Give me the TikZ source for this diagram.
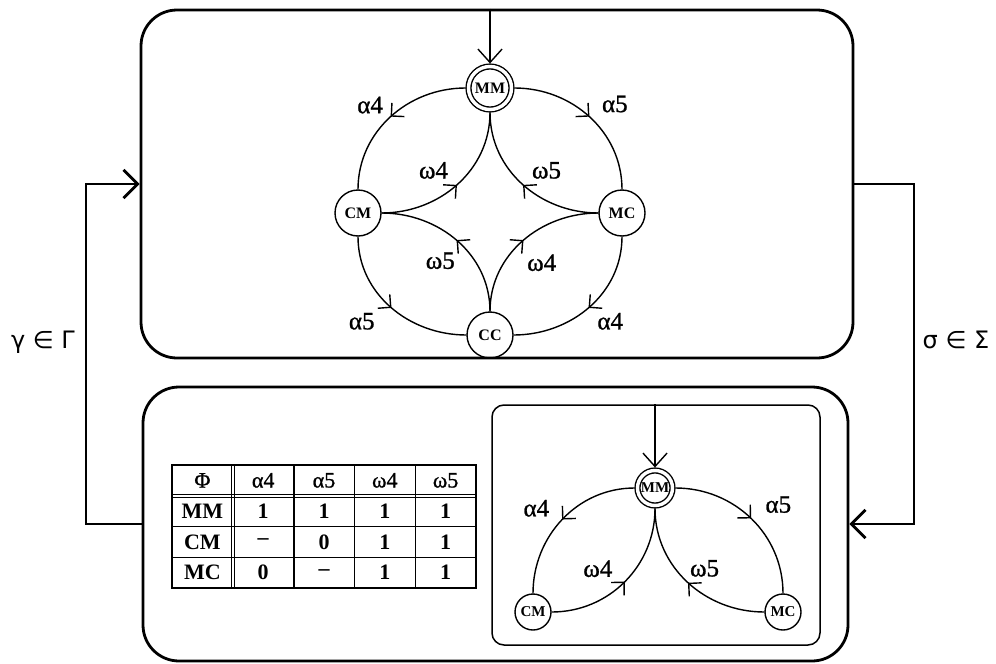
\documentclass[tikz,border=0pt]{standalone}
\usepackage{fontspec}
\setmainfont{Liberation Serif}
\newfontfamily\lblfont[FakeBold=1]{Liberation Serif}
\newfontfamily\sansgreek{DejaVu Sans}
\usetikzlibrary{arrows.meta,decorations.markings,matrix}
\begin{document}
\begin{tikzpicture}[x=1pt,y=-1pt,
  frame/.style={draw,line width=2.8pt,rounded corners=36pt,inner sep=0pt},
  panel/.style={draw,line width=1.5pt,rounded corners=12pt,inner sep=0pt},
  state/.style={circle,draw,line width=1.4pt,inner sep=0pt,minimum size=46pt,
    font=\fontsize{16}{16}\selectfont\bfseries},
  start/.style={state,double,double distance=3.4pt,minimum size=43pt,outer sep=3pt},
  statesm/.style={state,minimum size=36pt,font=\fontsize{15}{15}\selectfont\bfseries},
  startsm/.style={start,minimum size=35pt,font=\fontsize{15}{15}\selectfont\bfseries},
  trans/.style={line width=1.4pt,postaction={decorate,decoration={markings,
    mark=at position 0.5 with {\arrow{Straight Barb[angle=90:13pt]}}}}},
  lbl/.style={font=\lblfont\fontsize{25}{25}\selectfont,inner sep=0pt},
  entry/.style={line width=1.4pt,-{Straight Barb[angle=84:18pt]}},
  feed/.style={line width=2.8pt,-{Straight Barb[angle=90:20pt]}},
  setlbl/.style={font=\sansgreek\fontsize{24}{24}\selectfont,inner sep=0pt},
  cell/.style={minimum width=60.8pt,minimum height=30.75pt,inner sep=0pt,anchor=center,
    font=\fontsize{22}{22}\selectfont},
  head/.style={font=\lblfont\fontsize{22}{22}\selectfont},
  rule/.style={line width=1.5pt},
]
\useasboundingbox (0,0) rectangle (996,664);

% the two outer frames and the inner panel
\node[frame,minimum width=712pt,minimum height=348pt] (top) at (497,184) {};
\node[frame,minimum width=705pt,minimum height=274pt] (bot) at (495.5,524) {};
\node[panel,minimum width=328pt,minimum height=240pt] (pan) at (656,525) {};

% feedback loops between the frames
\coordinate (lfb) at (86,184);
\coordinate (rfb) at (914,524);
\draw[feed] (bot.west) -| (lfb) -- (top.west);
\draw[feed] (top.east) -| (rfb) -- (bot.east);
\node[setlbl] (gam) at (43,342) {γ ∈ Γ};
\node[setlbl] (sig) at (956,340) {σ ∈ Σ};

% upper automaton
\node[start] (MM) at (490,88) {MM};
\node[state] (CM) at (358,213) {CM};
\node[state] (MC) at (622,213) {MC};
\node[state] (CC) at (490,335) {CC};
\draw[entry] (top.north -| MM) -- (MM.north);

\draw[trans] (MM.west) to[out=180,in=90] node[lbl,midway,xshift=-20pt,yshift=12pt]{α4} (CM.north);
\draw[trans] (MM.east) to[out=0,in=90] node[lbl,midway,xshift=25pt,yshift=13pt]{α5} (MC.north);
\draw[trans] (CM.east) to[out=0,in=-90] node[lbl,midway,xshift=-24pt,yshift=14pt]{ω4} (MM.south);
\draw[trans] (MC.west) to[out=180,in=-90] node[lbl,midway,xshift=24pt,yshift=14pt]{ω5} (MM.south);
\draw[trans] (CC.north) to[out=90,in=0] node[lbl,midway,xshift=-17pt,yshift=-20pt]{ω5} (CM.east);
\draw[trans] (CC.north) to[out=90,in=180] node[lbl,midway,xshift=19pt,yshift=-22pt]{ω4} (MC.west);
\draw[trans] (CM.south) to[out=-90,in=180] node[lbl,midway,xshift=-29pt,yshift=-14pt]{α5} (CC.west);
\draw[trans] (MC.south) to[out=-90,in=0] node[lbl,midway,xshift=21pt,yshift=-14pt]{α4} (CC.east);

% lower automaton inside the panel
\node[startsm] (MMb) at (655,488) {MM};
\node[statesm] (CMb) at (533,612) {CM};
\node[statesm] (MCb) at (783,612) {MC};
\draw[entry] (pan.north -| MMb) -- (MMb.north);

\draw[trans] (MMb.west) to[out=180,in=90] node[lbl,midway,xshift=-26pt,yshift=11pt]{α4} (CMb.north);
\draw[trans] (MMb.east) to[out=0,in=90] node[lbl,midway,xshift=27pt,yshift=14pt]{α5} (MCb.north);
\draw[trans] (CMb.east) to[out=0,in=-90] node[lbl,midway,xshift=-27pt,yshift=13pt]{ω4} (MMb.south);
\draw[trans] (MCb.west) to[out=180,in=-90] node[lbl,midway,xshift=17pt,yshift=14pt]{ω5} (MMb.south);

% table of the map Phi
\matrix (tbl) at (324,526.5) [matrix of nodes,nodes={cell},column sep=0pt,row sep=0pt,
  row 1/.style={nodes={head}}]{
Φ & α4 & α5 & ω4 & ω5 \\
\bfseries MM & \bfseries 1 & \bfseries 1 & \bfseries 1 & \bfseries 1 \\
\bfseries CM & \bfseries – & \bfseries 0 & \bfseries 1 & \bfseries 1 \\
\bfseries MC & \bfseries 0 & \bfseries – & \bfseries 1 & \bfseries 1 \\
};
\draw[rule] (tbl-1-1.north west) rectangle (tbl-4-5.south east);
\foreach \c in {2,3,4} \draw[rule] (tbl-1-\c.north east) -- (tbl-4-\c.south east);
\foreach \r in {2,3} \draw[rule] (tbl-\r-1.south west) -- (tbl-\r-5.south east);
\draw[rule] ([xshift=-1.7pt]tbl-1-1.north east) -- ([xshift=-1.7pt]tbl-4-1.south east);
\draw[rule] ([xshift=1.7pt]tbl-1-1.north east) -- ([xshift=1.7pt]tbl-4-1.south east);
\draw[rule] ([yshift=1.7pt]tbl-1-1.south west) -- ([yshift=1.7pt]tbl-1-5.south east);
\draw[rule] ([yshift=-1.7pt]tbl-1-1.south west) -- ([yshift=-1.7pt]tbl-1-5.south east);
\end{tikzpicture}
\end{document}
